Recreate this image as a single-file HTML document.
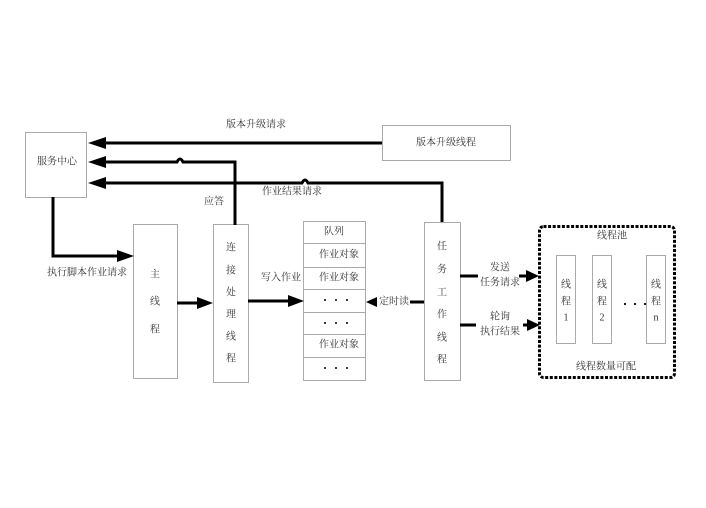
<!DOCTYPE html>
<html><head><meta charset="utf-8"><style>
html,body{margin:0;padding:0;background:#fff;}
svg{display:block;}
text{font-family:"Liberation Serif","Noto Serif CJK SC",serif;font-size:10px;fill:#333;text-anchor:middle;dominant-baseline:central;}
</style></head><body>
<svg width="706" height="508" viewBox="0 0 706 508" xmlns="http://www.w3.org/2000/svg">
<rect width="706" height="508" fill="#fff"/>
<g fill="#fff" stroke="#aaa" stroke-width="1">
<rect x="25.5" y="132.5" width="61" height="65"/>
<rect x="382.5" y="125.5" width="128" height="35"/>
<rect x="133.5" y="224.5" width="44" height="154"/>
<rect x="213.5" y="224.5" width="35" height="158"/>
<rect x="303.5" y="221.5" width="62" height="159"/>
<rect x="424.5" y="222.5" width="36" height="158"/>
<rect x="556.5" y="255.5" width="19" height="88"/>
<rect x="592.5" y="255.5" width="19" height="88"/>
<rect x="646.5" y="255.5" width="19" height="88"/>
<line x1="303.5" y1="243.5" x2="365.5" y2="243.5"/>
<line x1="303.5" y1="267.5" x2="365.5" y2="267.5"/>
<line x1="303.5" y1="289.5" x2="365.5" y2="289.5"/>
<line x1="303.5" y1="312.5" x2="365.5" y2="312.5"/>
<line x1="303.5" y1="334.5" x2="365.5" y2="334.5"/>
<line x1="303.5" y1="357.5" x2="365.5" y2="357.5"/>
</g>
<rect x="539.5" y="226.5" width="135" height="151" rx="4" fill="none" stroke="#000" stroke-width="3" stroke-dasharray="3 1.6"/>
<g fill="none" stroke="#000" stroke-width="3">
<path d="M382,143 H103"/>
<path d="M235,225 V162 H183 q-3,-6 -6,0 H103"/>
<path d="M442,222 V183 H308 q-3,-6 -6,0 H103"/>
<path d="M53,197 V256 H118"/>
<path d="M177,303 H199"/>
<path d="M248,301 H289"/>
<path d="M424,302 H410"/>
<path d="M460,276 H478"/>
<path d="M519,276 H527"/>
<path d="M460,325 H476"/>
<path d="M523,325 H528"/>
</g>
<g fill="#000">
<polygon points="88,143 106,137 106,149"/>
<polygon points="88,162 106,156 106,168"/>
<polygon points="88,183 106,177 106,189"/>
<polygon points="134,256 117,250 117,262"/>
<polygon points="213,303 197,297 197,309"/>
<polygon points="304,301 288,295 288,307"/>
<polygon points="366,302 377,297 377,307"/>
<polygon points="539,276 526,270 526,282"/>
<polygon points="540,325 527,319 527,331"/>
<circle cx="325" cy="300" r="1"/><circle cx="336" cy="300" r="1"/><circle cx="347" cy="300" r="1"/>
<circle cx="325" cy="323" r="1"/><circle cx="336" cy="323" r="1"/><circle cx="347" cy="323" r="1"/>
<circle cx="325" cy="368" r="1"/><circle cx="336" cy="368" r="1"/><circle cx="347" cy="368" r="1"/>
<circle cx="625" cy="304" r="1.1"/><circle cx="635" cy="304" r="1.1"/><circle cx="645" cy="304" r="1.1"/>
</g>
<text x="57" y="162">服务中心</text>
<text x="446" y="143">版本升级线程</text>
<text x="256" y="125">版本升级请求</text>
<text x="292" y="192">作业结果请求</text>
<text x="214" y="202">应答</text>
<text x="87" y="273">执行脚本作业请求</text>
<text x="281" y="278">写入作业</text>
<text x="394" y="302">定时读</text>
<text x="500" y="268">发送</text>
<text x="500" y="283">任务请求</text>
<text x="500" y="317">轮询</text>
<text x="500" y="332">执行结果</text>
<text x="612" y="236">线程池</text>
<text x="606" y="367">线程数量可配</text>
<text x="155" y="275">主</text><text x="155" y="302">线</text><text x="155" y="330">程</text>
<text x="231" y="248">连</text><text x="231" y="271">接</text><text x="231" y="293">处</text><text x="231" y="315">理</text><text x="231" y="337">线</text><text x="231" y="359">程</text>
<text x="442" y="247">任</text><text x="442" y="270">务</text><text x="442" y="293">工</text><text x="442" y="315">作</text><text x="442" y="338">线</text><text x="442" y="360">程</text>
<text x="334" y="232">队列</text>
<text x="339" y="255">作业对象</text>
<text x="339" y="278">作业对象</text>
<text x="339" y="345">作业对象</text>
<text x="566" y="285">线</text><text x="566" y="302">程</text><text x="566" y="318">1</text>
<text x="602" y="285">线</text><text x="602" y="302">程</text><text x="602" y="318">2</text>
<text x="656" y="285">线</text><text x="656" y="302">程</text><text x="656" y="318">n</text>
</svg>
</body></html>
